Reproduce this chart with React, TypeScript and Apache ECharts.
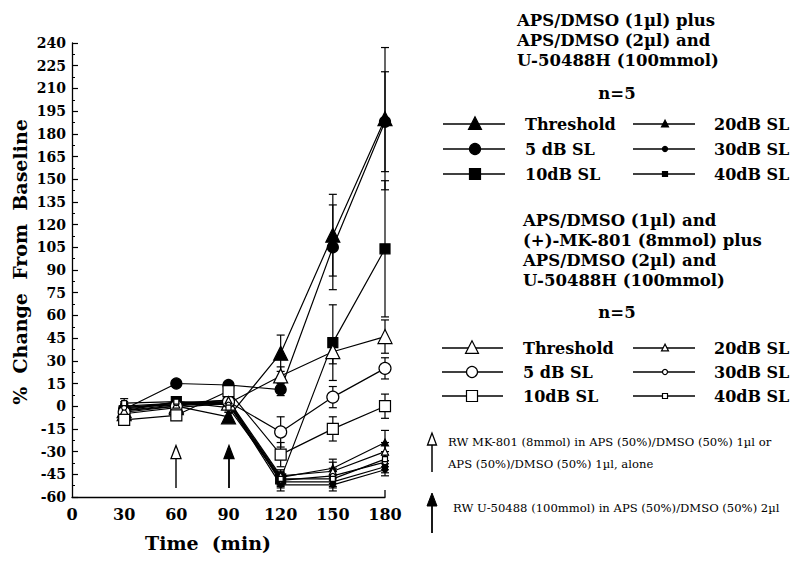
import React, { useEffect, useRef } from "react";
import * as echarts from "echarts";

// ---- data ----
const times = [30, 60, 90, 120, 150, 180];
const yTickMin = -60;
const yTickMax = 240;
const yTickStep = 15;

// Group A: APS/DMSO (1µl) plus APS/DMSO (2µl) and U-50488H (filled symbols)
const thresholdA = [-3, 0, -7, 35, 113, 190];
const thresholdAErr = [3, 3, 3, 12, 27, 47];
const db5A = [-2, 15, 14, 11, 105, 188];
const db5AErr = [3, 2, 2, 4, 28, 33];
const db10A = [-3, 3, 2, -48, 42, 104];
const db10AErr = [3, 3, 3, 4, 25, 45];
const db20A = [-2, 2, 3, -47, -41, -24];
const db20AErr = [3, 3, 3, 4, 6, 8];
const db30A = [-1, 1, 2, -52, -52, -42];
const db30AErr = [3, 3, 3, 4, 4, 4];
const db40A = [0, 2, 4, -50, -50, -40];
const db40AErr = [3, 3, 3, 4, 4, 4];

// Group B: with (+)-MK-801 (open symbols)
const thresholdB = [-5, -1, 2, 20, 36, 46];
const thresholdBErr = [3, 3, 3, 6, 8, 11];
const db5B = [-4, 0, 3, -17, 6, 25];
const db5BErr = [3, 3, 3, 10, 7, 7];
const db10B = [-9, -6, 10, -32, -15, 0];
const db10BErr = [3, 3, 3, 8, 8, 8];
const db20B = [-3, 1, 4, -46, -43, -30];
const db20BErr = [3, 3, 3, 4, 6, 6];
const db30B = [-1, 2, 1, -49, -46, -37];
const db30BErr = [3, 3, 3, 4, 5, 5];
const db40B = [2, 3, -1, -48, -48, -35];
const db40BErr = [3, 3, 3, 4, 5, 5];

// injection arrows: [time, open(0)/filled(1)]
const arrowTimes = [60, 90];
const arrowFilled = [0, 1];
const arrowFrom = -54;
const arrowTo = -26;

const legendLabels = ["Threshold", "5 dB SL", "10dB SL", "20dB SL", "30dB SL", "40dB SL"];
const titleA = ["APS/DMSO (1µl) plus", "APS/DMSO (2µl) and", "U-50488H (100mmol)"];
const titleB = ["APS/DMSO (1µl) and", "(+)-MK-801 (8mmol) plus", "APS/DMSO (2µl) and", "U-50488H (100mmol)"];
const nText = "n=5";
const note1 = ["RW MK-801 (8mmol) in APS (50%)/DMSO (50%) 1µl or", "APS (50%)/DMSO (50%) 1µl, alone"];
const note2 = "RW U-50488 (100mmol) in APS (50%)/DMSO (50%) 2µl";

const FONT = '"DejaVu Serif", "Liberation Serif", serif';

type Def = { name: string; vals: number[]; err: number[]; symbol: string; size: number; filled: boolean };

const defs: Def[] = [
  { name: "A Threshold", vals: thresholdA, err: thresholdAErr, symbol: "triangle", size: 14, filled: true },
  { name: "A 5 dB SL", vals: db5A, err: db5AErr, symbol: "circle", size: 11, filled: true },
  { name: "A 10dB SL", vals: db10A, err: db10AErr, symbol: "rect", size: 10, filled: true },
  { name: "A 20dB SL", vals: db20A, err: db20AErr, symbol: "triangle", size: 7, filled: true },
  { name: "A 30dB SL", vals: db30A, err: db30AErr, symbol: "circle", size: 5, filled: true },
  { name: "A 40dB SL", vals: db40A, err: db40AErr, symbol: "rect", size: 5, filled: true },
  { name: "B Threshold", vals: thresholdB, err: thresholdBErr, symbol: "triangle", size: 14, filled: false },
  { name: "B 5 dB SL", vals: db5B, err: db5BErr, symbol: "circle", size: 12, filled: false },
  { name: "B 10dB SL", vals: db10B, err: db10BErr, symbol: "rect", size: 11, filled: false },
  { name: "B 20dB SL", vals: db20B, err: db20BErr, symbol: "triangle", size: 7, filled: false },
  { name: "B 30dB SL", vals: db30B, err: db30BErr, symbol: "circle", size: 5, filled: false },
  { name: "B 40dB SL", vals: db40B, err: db40BErr, symbol: "rect", size: 5, filled: false },
];

function marker(shape: string, cx: number, cy: number, s: number, filled: boolean) {
  const style = { fill: filled ? "#000" : "#fff", stroke: "#000", lineWidth: 1.2 };
  if (shape === "triangle") {
    return {
      type: "polygon",
      shape: { points: [[cx, cy - s * 0.55], [cx - s / 2, cy + s * 0.42], [cx + s / 2, cy + s * 0.42]] },
      style,
    };
  }
  if (shape === "circle") {
    return { type: "circle", shape: { cx, cy, r: s / 2 }, style };
  }
  return { type: "rect", shape: { x: cx - s / 2, y: cy - s / 2, width: s, height: s }, style };
}

function legendBlock(rowsY: number[], filled: boolean, col1: number[], col2: number[]) {
  const out: any[] = [];
  const shapes = ["triangle", "circle", "rect"];
  const bigSizes = [13, 11, 11];
  const smallSizes = [7, 5, 5];
  for (let i = 0; i < 3; i++) {
    const y = rowsY[i];
    out.push({ type: "line", shape: { x1: col1[0], y1: y, x2: col1[1], y2: y }, style: { stroke: "#000", lineWidth: 1.3 } });
    out.push(marker(shapes[i], col1[2], y, bigSizes[i], filled));
    out.push({ type: "text", x: col1[3], y, style: { text: legendLabels[i], font: `bold 16px ${FONT}`, fill: "#000", verticalAlign: "middle" } });
    out.push({ type: "line", shape: { x1: col2[0], y1: y, x2: col2[1], y2: y }, style: { stroke: "#000", lineWidth: 1.3 } });
    out.push(marker(shapes[i], col2[2], y, smallSizes[i], filled));
    out.push({ type: "text", x: col2[3], y, style: { text: legendLabels[i + 3], font: `bold 16px ${FONT}`, fill: "#000", verticalAlign: "middle" } });
  }
  return out;
}

export default function App() {
  const ref = useRef<HTMLDivElement>(null);
  useEffect(() => {
    if (!ref.current) return;
    const chart = echarts.init(ref.current, null, { renderer: "svg" });

    const lineSeries = defs.map((d) => ({
      type: "line",
      name: d.name,
      data: times.map((t, i) => [t, d.vals[i]]),
      symbol: d.symbol,
      symbolSize: d.size,
      showAllSymbol: true,
      lineStyle: { color: "#000", width: 1.2 },
      itemStyle: { color: d.filled ? "#000" : "#fff", borderColor: "#000", borderWidth: 1.2 },
      z: 3,
    }));

    const errSeries = defs.map((d) => ({
      type: "custom",
      name: d.name + " err",
      data: times.map((t, i) => [t, d.vals[i], d.err[i]]),
      encode: { x: 0, y: 1 },
      z: 2,
      renderItem: (_p: any, api: any) => {
        const x = api.value(0);
        const y = api.value(1);
        const e = api.value(2);
        const top = api.coord([x, y + e]);
        const bot = api.coord([x, y - e]);
        const hw = 4;
        const st = { stroke: "#000", lineWidth: 1.2 };
        return {
          type: "group",
          children: [
            { type: "line", shape: { x1: top[0], y1: top[1], x2: bot[0], y2: bot[1] }, style: st },
            { type: "line", shape: { x1: top[0] - hw, y1: top[1], x2: top[0] + hw, y2: top[1] }, style: st },
            { type: "line", shape: { x1: bot[0] - hw, y1: bot[1], x2: bot[0] + hw, y2: bot[1] }, style: st },
          ],
        };
      },
    }));

    const arrowSeries = {
      type: "custom",
      name: "injections",
      data: arrowTimes.map((t, i) => [t, arrowFrom, arrowTo, arrowFilled[i]]),
      encode: { x: 0, y: [1, 2] },
      z: 1,
      renderItem: (_p: any, api: any) => {
        const x = api.value(0);
        const bot = api.coord([x, api.value(1)]);
        const top = api.coord([x, api.value(2)]);
        const filled = api.value(3) === 1;
        const px = Math.round(bot[0]);
        return {
          type: "group",
          children: [
            {
              type: "line",
              shape: { x1: px, y1: bot[1], x2: px, y2: top[1] + (filled ? 8 : 4) },
              style: { stroke: "#000", lineWidth: filled ? 1.8 : 1.4 },
            },
            {
              type: "polygon",
              shape: { points: [[px, top[1]], [px - 5, top[1] + 13], [px + 5, top[1] + 13]] },
              style: { fill: filled ? "#000" : "#fff", stroke: "#000", lineWidth: 1.3 },
            },
          ],
        };
      },
    };

    const graphics: any[] = [];
    graphics.push({
      type: "text",
      x: 20,
      y: 262,
      rotation: Math.PI / 2,
      style: { text: "%  Change  From  Baseline", font: `bold 19px ${FONT}`, fill: "#000", align: "center", verticalAlign: "middle" },
    });
    graphics.push({
      type: "text",
      x: 208,
      y: 543,
      style: { text: "Time  (min)", font: `bold 19px ${FONT}`, fill: "#000", align: "center", verticalAlign: "middle" },
    });
    graphics.push({ type: "line", shape: { x1: 385, y1: 497, x2: 385, y2: 490 }, style: { stroke: "#000", lineWidth: 1.3 } });

    titleA.forEach((t, i) => {
      graphics.push({ type: "text", x: 517, y: 20 + i * 20, style: { text: t, font: `bold 16.5px ${FONT}`, fill: "#000", verticalAlign: "middle" } });
    });
    graphics.push({ type: "text", x: 617, y: 93, style: { text: nText, font: `bold 16.5px ${FONT}`, fill: "#000", align: "center", verticalAlign: "middle" } });
    graphics.push(...legendBlock([124, 149, 174], true, [443, 505, 475, 525], [633, 695, 665, 714]));

    titleB.forEach((t, i) => {
      graphics.push({ type: "text", x: 523, y: 220 + i * 20, style: { text: t, font: `bold 16.5px ${FONT}`, fill: "#000", verticalAlign: "middle" } });
    });
    graphics.push({ type: "text", x: 617, y: 312, style: { text: nText, font: `bold 16.5px ${FONT}`, fill: "#000", align: "center", verticalAlign: "middle" } });
    graphics.push(...legendBlock([348, 372, 396], false, [442, 503, 472, 523], [633, 695, 665, 714]));

    const openArrow = (x: number, yTop: number, yBot: number) => [
      { type: "line", shape: { x1: x, y1: yBot, x2: x, y2: yTop + 4 }, style: { stroke: "#000", lineWidth: 1.5 } },
      { type: "polygon", shape: { points: [[x, yTop], [x - 4.5, yTop + 12], [x + 4.5, yTop + 12]] }, style: { fill: "#fff", stroke: "#000", lineWidth: 1.3 } },
    ];
    const filledArrow = (x: number, yTop: number, yBot: number) => [
      { type: "line", shape: { x1: x, y1: yBot, x2: x, y2: yTop + 8 }, style: { stroke: "#000", lineWidth: 1.8 } },
      { type: "polygon", shape: { points: [[x, yTop], [x - 5, yTop + 13], [x + 5, yTop + 13]] }, style: { fill: "#000", stroke: "#000", lineWidth: 1 } },
    ];
    graphics.push(...openArrow(432, 433, 472));
    graphics.push(...filledArrow(432, 493, 533));
    note1.forEach((t, i) => {
      graphics.push({ type: "text", x: 448, y: 442 + i * 22, style: { text: t, font: `11.6px ${FONT}`, fill: "#000", verticalAlign: "middle" } });
    });
    graphics.push({ type: "text", x: 453, y: 508, style: { text: note2, font: `11.6px ${FONT}`, fill: "#000", verticalAlign: "middle" } });

    chart.setOption({
      animation: false,
      backgroundColor: "#fff",
      grid: { left: 72, right: 415, top: 43, bottom: 66 },
      xAxis: {
        type: "value",
        min: 0,
        max: 180,
        interval: 30,
        axisLine: { onZero: false, lineStyle: { color: "#000", width: 1.3 } },
        axisTick: { show: false },
        splitLine: { show: false },
        axisLabel: { color: "#000", fontFamily: FONT, fontWeight: "bold", fontSize: 16, margin: 9 },
      },
      yAxis: {
        type: "value",
        min: yTickMin,
        max: yTickMax,
        interval: yTickStep,
        axisLine: { show: true, onZero: false, lineStyle: { color: "#000", width: 1.3 } },
        axisTick: { show: true, inside: true, length: 6, lineStyle: { color: "#000", width: 1.2 } },
        minorTick: { show: true, splitNumber: 2, length: 3, lineStyle: { color: "#000", width: 1 } },
        splitLine: { show: false },
        axisLabel: { color: "#000", fontFamily: FONT, fontWeight: "bold", fontSize: 14, margin: 6 },
      },
      graphic: graphics,
      series: [arrowSeries, ...errSeries, ...lineSeries],
    });
    return () => chart.dispose();
  }, []);
  return <div ref={ref} style={{ width: 800, height: 563, position: "absolute", left: 0, top: 0 }} />;
}
